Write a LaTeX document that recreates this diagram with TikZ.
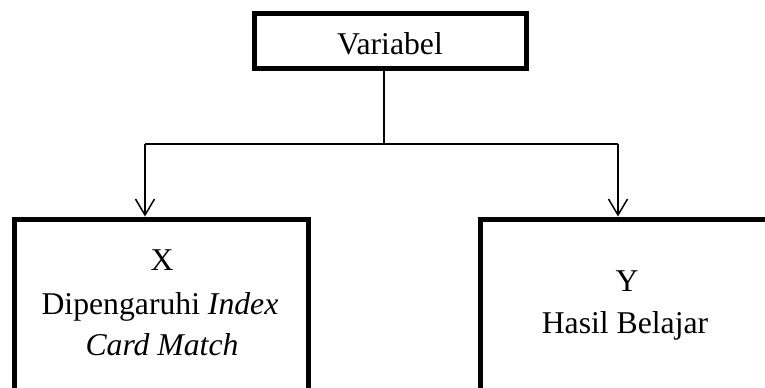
\documentclass[tikz,border=0pt]{standalone}
\usepackage{fontspec}
\setmainfont{Liberation Serif}
\usetikzlibrary{arrows.meta}
\begin{document}
\begin{tikzpicture}[x=1bp,y=-1bp,
  box/.style={draw,line width=5bp,rectangle,inner sep=0pt},
  lbl/.style={anchor=base,inner sep=0pt,font=\fontsize{31.7bp}{42bp}\selectfont},
  link/.style={line width=1.5bp},
  arr/.style={link,-{Straight Barb[length=16bp,width=19bp,line width=1.5bp]}}]
\useasboundingbox (0,0) rectangle (765,387);
\clip (0,0) rectangle (765,387);

% boxes
\node[box,minimum width=272bp,minimum height=55bp] (var) at (390.5,41) {};
\node[box,minimum width=293bp,minimum height=240bp] (xbox) at (161.5,339) {};
\node[box,minimum width=290bp,minimum height=240bp] (ybox) at (625,339) {};

% texts
\node[lbl] (vt) at (390,54) {Variabel};
\node[lbl] (x1) at (162,270) {X};
\node[lbl] (x2) at (160,314) {Dipengaruhi \textit{Index}};
\node[lbl] (x3) at (162,355) {\textit{Card Match}};
\node[lbl] (y1) at (627,291.5) {Y};
\node[lbl] (y2) at (625,333) {Hasil Belajar};

% connectors
\coordinate (j) at (384,144);
\coordinate (jl) at (145,144);
\coordinate (jr) at (618,144);
\draw[link] (var.south -| j) -- (j);
\draw[link] (jl) -- (jr);
\draw[arr] (jl) -- (jl |- xbox.north);
\draw[arr] (jr) -- (jr |- ybox.north);
\end{tikzpicture}
\end{document}
